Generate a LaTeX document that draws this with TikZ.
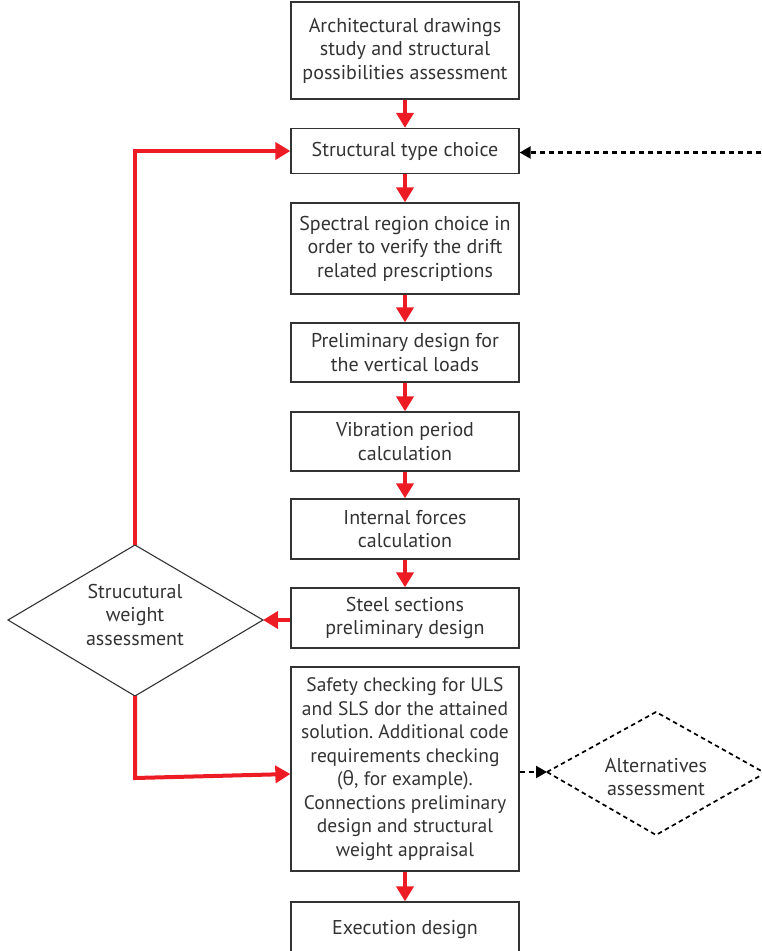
\documentclass[tikz,border=0pt]{standalone}
\usepackage{fontspec}
\setmainfont{PT Sans}
\newfontfamily\grkfont{Open Sans}
\frenchspacing
\usetikzlibrary{arrows.meta,calc}
\definecolor{fred}{HTML}{ED1C24}
\definecolor{ftext}{HTML}{333333}
\definecolor{fline}{HTML}{333333}
\begin{document}
\begin{tikzpicture}[x=1pt,y=-1pt,
  stepbox/.style={draw=fline,line width=1.3pt,minimum width=228pt,inner sep=0pt,align=center,text=ftext,font=\fontsize{20}{23.5}\selectfont},
  dtext/.style={inner sep=0pt,align=center,text=ftext,font=\fontsize{20}{23.5}\selectfont},
  dshape/.style={draw=fline,line width=1.1pt,line join=miter},
  dshapedash/.style={draw=black,line width=1.7pt,dash pattern=on 4.5pt off 3.5pt},
  redarrow/.style={draw=fred,line width=4pt,-{Triangle[length=15pt,width=17pt]}},
  dasharrow/.style={draw=black,line width=2.4pt,dash pattern=on 5pt off 4pt,-{Triangle[length=11pt,width=12pt]}}
]
\useasboundingbox (0,0) rectangle (761,951);
\node[stepbox,minimum height=97pt] (b1) at (405,50.5) {Architectural drawings\\study and structural\\possibilities assessment};
\node[stepbox,minimum height=45pt] (b2) at (405,151) {Structural type choice};
\node[stepbox,minimum height=91pt] (b3) at (405,248.5) {Spectral region choice in\\order to verify the drift\\related prescriptions};
\node[stepbox,minimum height=59pt] (b4) at (405,352.5) {Preliminary design for\\the vertical loads};
\node[stepbox,minimum height=59pt] (b5) at (405,441.5) {Vibration period\\calculation};
\node[stepbox,minimum height=60pt] (b6) at (405,529) {Internal forces\\calculation};
\node[stepbox,minimum height=60pt] (b7) at (405,618) {Steel sections\\preliminary design};
\node[stepbox,minimum height=204pt,font=\fontsize{19.5}{23.5}\selectfont] (b8) at (405,769) {Safety checking for ULS\\and SLS dor the attained\\solution. Additional code\\requirements checking\\({\grkfont θ}, for example).\\Connections preliminary\\design and structural\\weight appraisal};
\node[stepbox,minimum height=56pt] (b9) at (405,930) {Execution design};
% left decision diamond
\coordinate (d1l) at (8,620);
\coordinate (d1t) at (135,545);
\coordinate (d1r) at (263,620);
\coordinate (d1b) at (135,696);
\draw[dshape] (d1l) -- (d1t) -- (d1r) -- (d1b) -- cycle;
\node[dtext] (d1) at (135,614.5) {Strucutural\\weight\\assessment};
% right dashed diamond
\coordinate (d2l) at (547,772);
\coordinate (d2t) at (656,712);
\coordinate (d2r) at (765,773);
\coordinate (d2b) at (656,835);
\draw[dshapedash] (d2l) -- (d2t) -- (d2r) -- (d2b) -- cycle;
\node[dtext] (d2) at (656,777) {Alternatives\\assessment};
\coordinate (rt) at (761,152.5);
\coordinate (c1) at (135,778);
\foreach \a/\b in {b1/b2,b2/b3,b3/b4,b4/b5,b5/b6,b6/b7,b8/b9}
  \draw[redarrow] (\a.south) -- (\b.north);
\draw[redarrow] (b7.west |- d1r) -- (d1r);
\draw[redarrow] (d1t) |- (b2.west);
\draw[redarrow] (d1b) -- (c1) -- ($(b8.west)+(0,5)$);
\draw[dasharrow] (rt) -- (rt -| b2.east);
\draw[dasharrow] (b8.east |- d2l) -- (d2l);
\end{tikzpicture}
\end{document}
